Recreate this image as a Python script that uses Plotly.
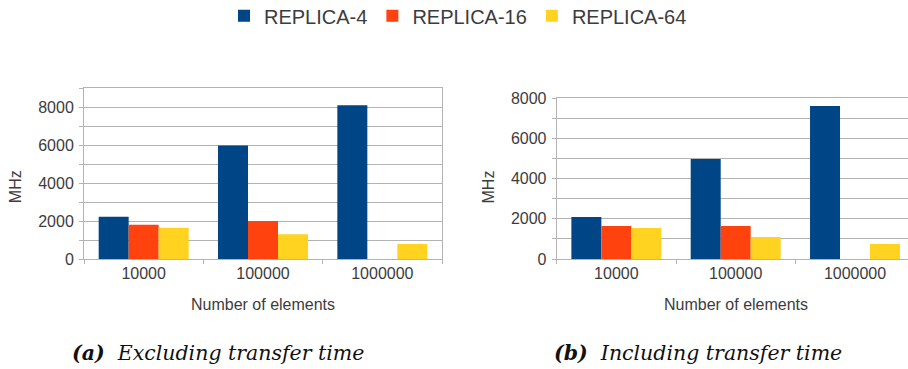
import plotly.graph_objects as go

# Element counts on the x axis
categories = ["10000", "100000", "1000000"]
series_names = ["REPLICA-4", "REPLICA-16", "REPLICA-64"]
series_colors = ["#004586", "#ff420e", "#ffd320"]

# Throughput (MHz), excluding transfer time
excl_replica4 = [2230, 5980, 8100]
excl_replica16 = [1800, 2000, 0]
excl_replica64 = [1650, 1310, 790]

# Throughput (MHz), including transfer time
incl_replica4 = [2090, 4980, 7620]
incl_replica16 = [1640, 1640, 0]
incl_replica64 = [1540, 1090, 750]

yticks_left = [0, 2000, 4000, 6000, 8000]
yticks_right = [0, 2000, 4000, 6000, 8000]

excl = [excl_replica4, excl_replica16, excl_replica64]
incl = [incl_replica4, incl_replica16, incl_replica64]

TEXT = "#3c3c3c"
GRID = "#b3b3b3"
SANS = "Liberation Sans"
SERIF = "DejaVu Serif"

fig = go.Figure()
for name, color, vals in zip(series_names, series_colors, excl):
    fig.add_trace(go.Bar(x=categories, y=vals, name=name, marker_color=color,
                         marker_line_width=0, legendgroup=name,
                         xaxis="x", yaxis="y"))
for name, color, vals in zip(series_names, series_colors, incl):
    fig.add_trace(go.Bar(x=categories, y=vals, name=name, marker_color=color,
                         marker_line_width=0, legendgroup=name, showlegend=False,
                         xaxis="x2", yaxis="y2"))

W, H = 908, 369


def xaxis(domain, rng):
    return dict(domain=domain, type="category", range=rng, showline=True,
                linecolor=GRID, linewidth=1, mirror=True, showgrid=False,
                ticks="outside", tickson="boundaries", ticklen=4, tickcolor=GRID,
                automargin=False,
                tickfont=dict(family=SANS, size=16, color=TEXT), fixedrange=True)


def yaxis(domain, top, anchor, ticks):
    return dict(domain=domain, range=[0, top], anchor=anchor, tickvals=ticks,
                showline=True, linecolor=GRID, linewidth=1, mirror=True,
                showgrid=True, gridcolor=GRID, gridwidth=1, zeroline=False,
                ticks="outside", ticklen=4, tickcolor=GRID,
                ticklabelstandoff=2, automargin=False,
                minor=dict(dtick=1000, ticks="outside", ticklen=4, tickcolor=GRID,
                           showgrid=True, gridcolor=GRID, gridwidth=1),
                tickfont=dict(family=SANS, size=16, color=TEXT), fixedrange=True)


ybot = (H - 259) / H
fig.update_layout(
    width=W, height=H, margin=dict(l=0, r=0, t=0, b=0, autoexpand=False),
    paper_bgcolor="white", plot_bgcolor="white",
    barmode="group", bargap=0.246, bargroupgap=0,
    xaxis=xaxis([84 / W, 442 / W], [-0.5, 2.5]),
    yaxis=yaxis([ybot, (H - 88.3) / H], 9000, "x", yticks_left),
    xaxis2=dict(xaxis([556.7 / W, 1.0], [-0.5, 2.444]), anchor="y2"),
    yaxis2=yaxis([ybot, (H - 98.3) / H], 8000, "x2", yticks_right),
    legend=dict(orientation="h", x=458 / W, xanchor="center",
                y=(H - 15.7) / H, yanchor="middle",
                font=dict(family=SANS, size=20, color=TEXT),
                itemwidth=30, tracegroupgap=0, bgcolor="rgba(0,0,0,0)"),
    showlegend=True,
)

common = dict(xref="paper", yref="paper", showarrow=False,
              xanchor="center", yanchor="middle")
annotations = [
    # axis titles
    dict(text="Number of elements", x=263 / W, y=(H - 304) / H,
         font=dict(family=SANS, size=16, color=TEXT), **common),
    dict(text="Number of elements", x=735.7 / W, y=(H - 304) / H,
         font=dict(family=SANS, size=16, color=TEXT), **common),
    dict(text="MHz", x=15.7 / W, y=(H - 186.5) / H, textangle=-90,
         font=dict(family=SANS, size=16, color=TEXT), **common),
    dict(text="MHz", x=488 / W, y=(H - 186.5) / H, textangle=-90,
         font=dict(family=SANS, size=16, color=TEXT), **common),
    # sub-figure captions
    dict(text="<b><i>(a)</i></b>  <i>Excluding transfer time</i>", x=217.5 / W, y=(H - 353) / H,
         font=dict(family=SERIF, size=20.5, color="#111111"), **common),
    dict(text="<b><i>(b)</i></b>  <i>Including transfer time</i>", x=698 / W, y=(H - 353) / H,
         font=dict(family=SERIF, size=20.5, color="#111111"), **common),
]
fig.update_layout(annotations=annotations)

fig.write_html("out.html", config={"displayModeBar": False})
